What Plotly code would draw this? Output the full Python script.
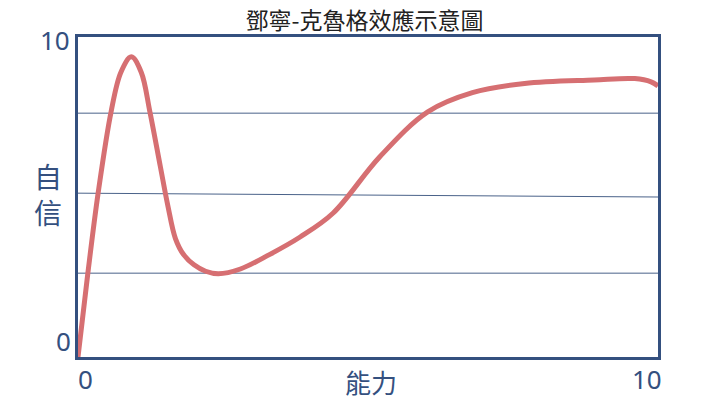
import plotly.graph_objects as go

# ability (x) vs confidence (y)
ability = [0, 0.17, 0.35, 0.57, 0.74, 0.92, 1.09, 1.24, 1.42, 1.55, 1.68,
           1.82, 2.0, 2.2, 2.42, 2.8, 3.3, 3.83, 4.4, 5.2, 6.03, 6.8, 7.7,
           8.9, 9.6, 9.88, 10]
confidence = [0, 2.62, 5.16, 7.66, 8.9, 9.38, 8.9, 7.66, 5.95, 4.72, 3.7,
              3.2, 2.88, 2.68, 2.6, 2.75, 3.2, 3.75, 4.5, 6.25, 7.66, 8.26,
              8.55, 8.66, 8.7, 8.6, 8.47]

# horizontal guide lines (left end, right end)
grid_left = [2.62, 5.12, 7.62]
grid_right = [2.62, 5.0, 7.62]

title = "鄧寧-克魯格效應示意圖"
x_title = "能力"
y_title = "自信"
axis_min, axis_max = 0, 10

blue = "#34507f"
red = "#d66f72"
num_font = dict(family="Noto Sans, Open Sans", size=26, color=blue)
cjk = "Noto Sans CJK TC"

fig = go.Figure()

for y0, y1 in zip(grid_left, grid_right):
    fig.add_shape(type="line", xref="x", yref="y", x0=axis_min, x1=axis_max,
                  y0=y0, y1=y1, line=dict(color="#4a6289", width=1), layer="below")

fig.add_trace(go.Scatter(
    x=ability, y=confidence, mode="lines",
    line=dict(color=red, width=5, shape="spline", smoothing=1.0),
    hoverinfo="skip"
))

fig.update_xaxes(range=[axis_min, axis_max], showgrid=False, zeroline=False,
                 showticklabels=False, showline=True, mirror=True,
                 linewidth=3, linecolor=blue)
fig.update_yaxes(range=[axis_min, axis_max], showgrid=False, zeroline=False,
                 showticklabels=False, showline=True, mirror=True,
                 linewidth=3, linecolor=blue)

annotations = [
    # y ticks
    dict(text=str(axis_max), x=0, y=1, xref="paper", yref="paper",
         xanchor="right", yanchor="middle", xshift=-6, yshift=-3,
         showarrow=False, font=num_font),
    dict(text=str(axis_min), x=0, y=0, xref="paper", yref="paper",
         xanchor="right", yanchor="bottom", xshift=-5, yshift=-4,
         showarrow=False, font=num_font),
    # x ticks
    dict(text=str(axis_min), x=0, y=0, xref="paper", yref="paper",
         xanchor="left", yanchor="top", xshift=-2, yshift=-2,
         showarrow=False, font=num_font),
    dict(text=str(axis_max), x=1, y=0, xref="paper", yref="paper",
         xanchor="right", yanchor="top", xshift=6, yshift=-2,
         showarrow=False, font=num_font),
    # axis titles
    dict(text=x_title, x=0.505, y=0, xref="paper", yref="paper",
         xanchor="center", yanchor="top", yshift=-4, showarrow=False,
         font=dict(family=cjk, size=26, color=blue)),
    dict(text="<br>".join(y_title), x=0, y=0.51, xref="paper", yref="paper",
         xanchor="right", yanchor="middle", xshift=-14, showarrow=False,
         font=dict(family=cjk, size=28, color=blue)),
]

# page adds ~8px offset, so margins are shifted to compensate
fig.update_layout(
    width=720, height=405,
    margin=dict(l=70, r=70, t=29, b=56),
    paper_bgcolor="white", plot_bgcolor="white",
    showlegend=False,
    title=dict(text=title, x=0.495, xanchor="center", y=0.969, yanchor="middle",
               font=dict(family=cjk, size=23, color="#222222")),
    annotations=annotations,
)

fig.write_html("out.html")
